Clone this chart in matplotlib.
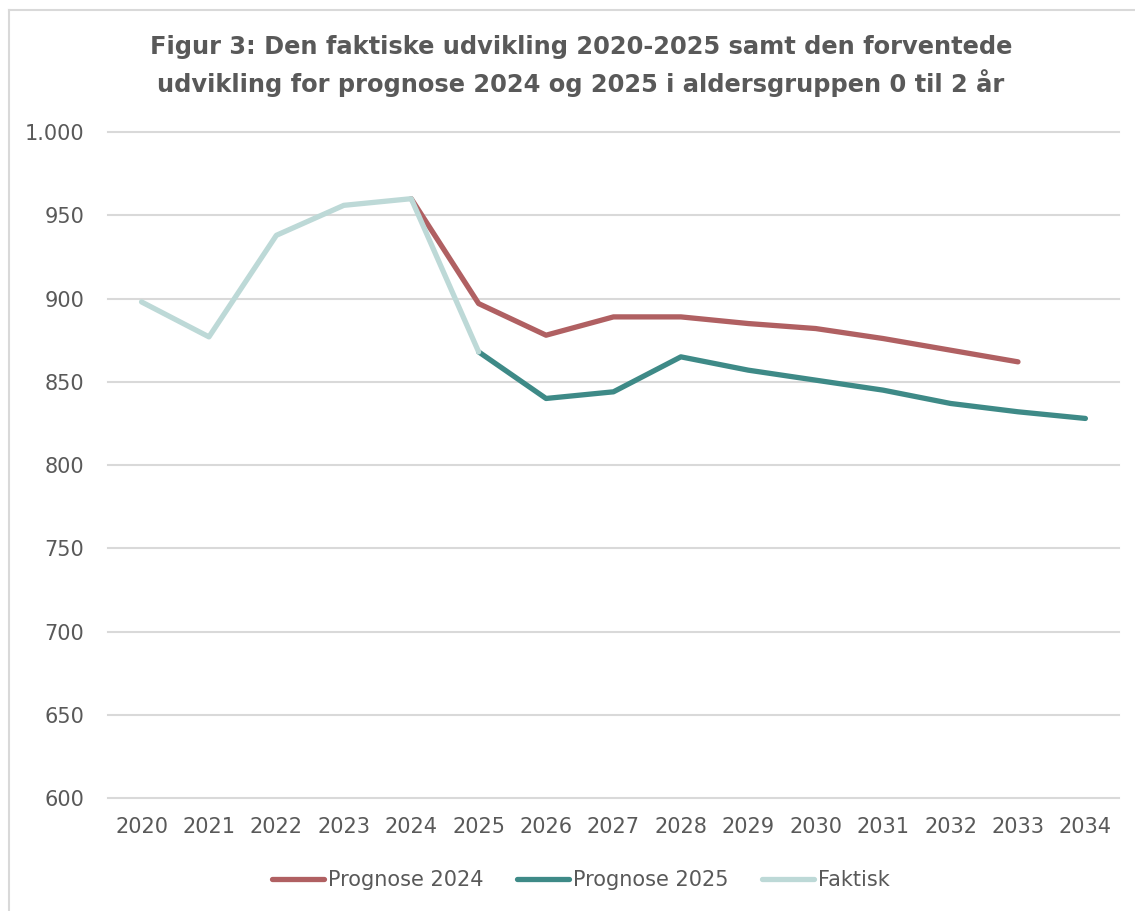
import matplotlib.pyplot as plt
from matplotlib.lines import Line2D

# data
years = ['2020', '2021', '2022', '2023', '2024', '2025', '2026',
         '2027', '2028', '2029', '2030', '2031', '2032', '2033', '2034']
faktisk = [898, 877, 938, 956, 960, 868]
prognose_2024 = [960, 897, 878, 889, 889, 885, 882, 876, 869, 862]
prognose_2025 = [868, 840, 844, 865, 857, 851, 845, 837, 832, 828]

red = '#B06062'
teal = '#3E8A87'
light = '#BDD9D7'
grey_text = '#595959'

plt.rcParams['font.family'] = ['DejaVu Sans']

fig = plt.figure(figsize=(11.35, 9.11), dpi=100)
ax = fig.add_axes([0.095, 0.124, 0.891, 0.731])

x = list(range(len(years)))
ax.plot(x[4:4 + len(prognose_2024)], prognose_2024, color=red, lw=3.8,
        solid_capstyle='round', solid_joinstyle='round', zorder=3)
ax.plot(x[5:5 + len(prognose_2025)], prognose_2025, color=teal, lw=3.8,
        solid_capstyle='round', solid_joinstyle='round', zorder=4)
ax.plot(x[:len(faktisk)], faktisk, color=light, lw=3.8,
        solid_capstyle='round', solid_joinstyle='round', zorder=5)

ax.set_xlim(-0.5, len(years) - 0.5)
ax.set_ylim(600, 1000)
ax.set_xticks(x)
ax.set_xticklabels(years)
yt = list(range(600, 1001, 50))
ax.set_yticks(yt)
ax.set_yticklabels([('1.000' if v == 1000 else str(v)) for v in yt])
ax.grid(axis='y', color='#D9D9D9', lw=1.5)
for g in ax.get_ygridlines():
    g.set_clip_on(False)
ax.set_axisbelow(True)
for s in ax.spines.values():
    s.set_visible(False)
ax.tick_params(length=0, colors=grey_text, labelsize=15)
ax.tick_params(axis='x', pad=14)
ax.tick_params(axis='y', pad=17)

fig.text(0.512, 1 - 66 / 911,
         'Figur 3: Den faktiske udvikling 2020-2025 samt den forventede\n'
         'udvikling for prognose 2024 og 2025 i aldersgruppen 0 til 2 år',
         ha='center', va='center', fontsize=17.4, fontweight='bold',
         color=grey_text, linespacing=1.4)

handles = [Line2D([], [], color=c, lw=3.8, solid_capstyle='round')
           for c in (red, teal, light)]
fig.legend(handles, ['Prognose 2024', 'Prognose 2025', 'Faktisk'],
           loc='center', bbox_to_anchor=(0.512, 0.034), ncol=3, frameon=False,
           fontsize=15, labelcolor=grey_text, handlelength=2.5,
           handletextpad=0.2, columnspacing=1.6)

# light border of the chart area
fig.add_artist(Line2D([9 / 1135, 9 / 1135], [0, 1 - 10 / 911],
                      transform=fig.transFigure, color='#D9D9D9', lw=1.5))
fig.add_artist(Line2D([9 / 1135, 1], [1 - 10 / 911, 1 - 10 / 911],
                      transform=fig.transFigure, color='#D9D9D9', lw=1.5))

fig.savefig('out.png', dpi=100)
